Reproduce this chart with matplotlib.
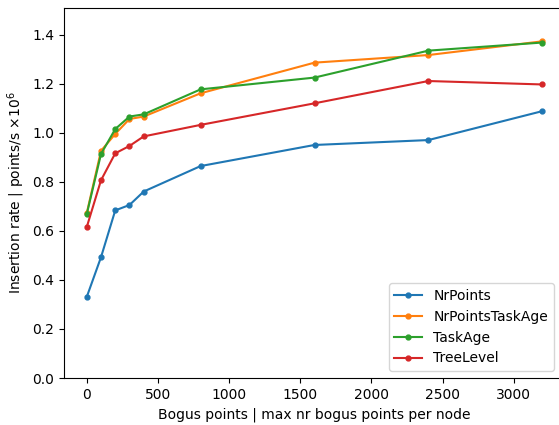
import matplotlib
matplotlib.use("Agg")
import matplotlib.pyplot as plt

bogus_points = [0, 100, 200, 300, 400, 800, 1600, 2400, 3200]

nr_points = [0.331, 0.493, 0.684, 0.706, 0.761, 0.865, 0.951, 0.971, 1.089]
nr_points_task_age = [0.673, 0.927, 0.996, 1.057, 1.067, 1.162, 1.287, 1.318, 1.374]
task_age = [0.669, 0.914, 1.016, 1.067, 1.076, 1.178, 1.226, 1.336, 1.369]
tree_level = [0.616, 0.807, 0.917, 0.947, 0.986, 1.033, 1.121, 1.212, 1.198]

series = [
    ("NrPoints", nr_points),
    ("NrPointsTaskAge", nr_points_task_age),
    ("TaskAge", task_age),
    ("TreeLevel", tree_level),
]

fig = plt.figure(figsize=(5.59, 4.25), dpi=100)
ax = fig.add_axes([64 / 559, 1 - 378 / 425, 501 / 559, 370 / 425])

for label, values in series:
    ax.plot(bogus_points, values, marker="o", markersize=3.5, linewidth=1.5, label=label)

ax.set_xlim(-160, 3360)
ax.set_ylim(0, 1.51)
ax.set_xticks([0, 500, 1000, 1500, 2000, 2500, 3000])
ax.set_yticks([0.0, 0.2, 0.4, 0.6, 0.8, 1.0, 1.2, 1.4])
ax.set_xlabel("Bogus points | max nr bogus points per node")
ax.set_ylabel(r"Insertion rate | points/s $\times 10^6$")
# the saved figure was cropped on the right, so the legend sits near the edge
ax.legend(loc="lower right", bbox_to_anchor=(0.991, 0.0))

fig.savefig("out.png", dpi=100)
